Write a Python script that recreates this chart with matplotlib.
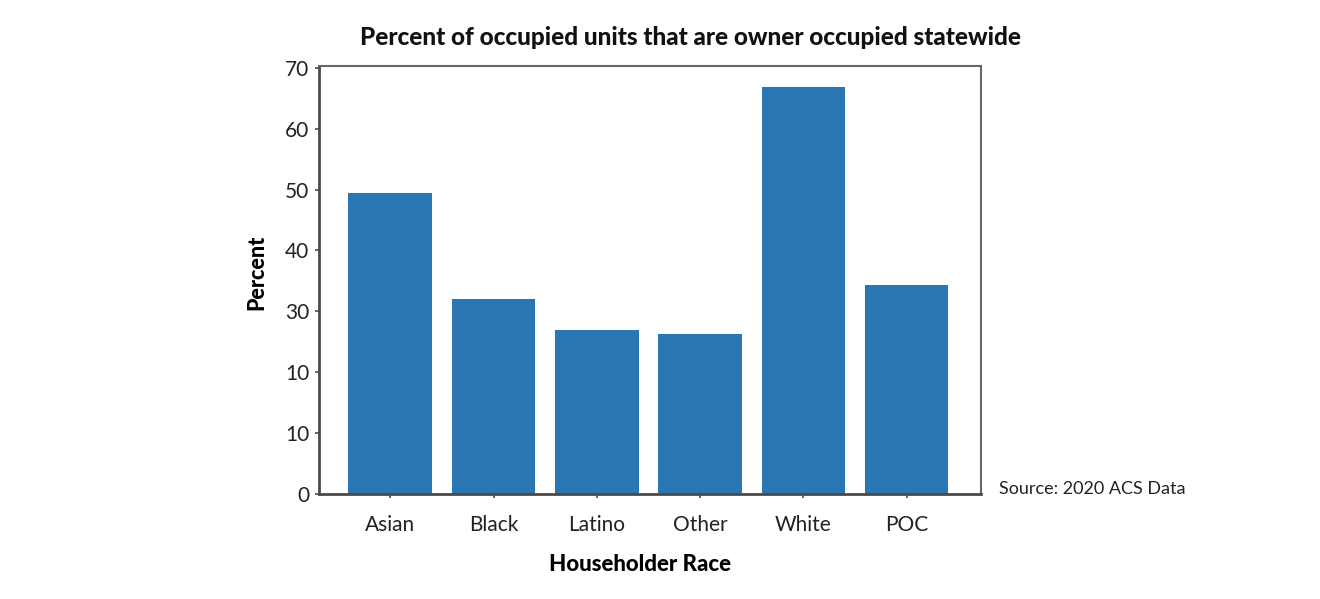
import matplotlib
matplotlib.use("Agg")
import matplotlib.pyplot as plt

CATEGORIES = ["Asian", "Black", "Latino", "Other", "White", "POC"]
VALUES = [49.5, 32.1, 26.9, 26.2, 66.9, 34.3]
YTICKS = [0, 10, 20, 30, 40, 50, 60, 70]
# the original chart labels 20 as "10"
YTICK_LABELS = ["0", "10", "10", "30", "40", "50", "60", "70"]

BAR_COLOUR = "#2a76b3"
SPINE_COLOUR = "#4a4a4a"


def main():
    fig = plt.figure(figsize=(13.2, 5.99), dpi=100)
    ax = fig.add_axes([0.2417, 0.1753, 0.5015, 0.7145])

    x = range(len(CATEGORIES))
    ax.bar(x, VALUES, width=0.81, color=BAR_COLOUR)
    ax.set_xlim(-0.69, 5.72)
    ax.set_ylim(0, 70.3)

    ax.set_xticks(list(x))
    ax.set_xticklabels(CATEGORIES, fontsize=15, family="Lato", color="#222222")
    ax.set_yticks(YTICKS)
    ax.set_yticklabels(YTICK_LABELS, fontsize=15, family="Lato", color="#222222")
    ax.tick_params(axis="x", length=3, width=1.2, color=SPINE_COLOUR, pad=12)
    ax.tick_params(axis="y", length=3, width=1.2, color=SPINE_COLOUR, pad=4)

    for side in ["left", "bottom"]:
        ax.spines[side].set_linewidth(2)
        ax.spines[side].set_color(SPINE_COLOUR)
    for side in ["top", "right"]:
        ax.spines[side].set_linewidth(1.5)
        ax.spines[side].set_color("#666666")

    ax.set_ylabel("Percent", fontsize=15.5, family="Lato", fontweight="black")
    ax.yaxis.set_label_coords(-0.078, 0.518)
    ax.set_xlabel("Householder Race", fontsize=16, family="Lato",
                  fontweight="black")
    ax.xaxis.set_label_coords(0.485, -0.14)
    fig.text(0.523, 0.937, "Percent of occupied units that are owner occupied statewide",
             ha="center", va="center", fontsize=17.5, family="Lato",
             fontweight="black", color="#111111")
    fig.text(0.757, 0.183, "Source: 2020 ACS Data", ha="left", va="center",
             fontsize=13, family="Lato", color="#222222")

    fig.savefig("out.png", dpi=100)


if __name__ == "__main__":
    main()
